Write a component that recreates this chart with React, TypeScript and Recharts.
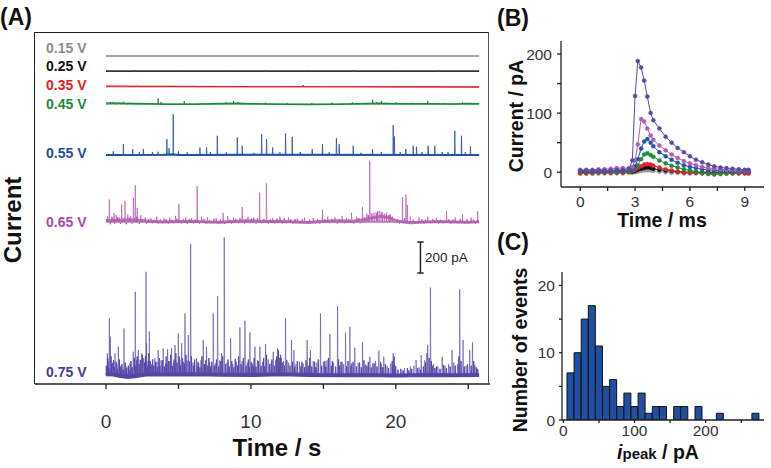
import React from 'react';
import { LineChart, Line, BarChart, Bar, XAxis, YAxis, ReferenceLine } from 'recharts';

const FONT = '"Liberation Sans", Arial, Helvetica, sans-serif';
const INK = '#222';

// ---------- (A) current traces at each potential ----------
const T_END = 25.75;
const VOLTAGES = ['0.15 V', '0.25 V', '0.35 V', '0.45 V', '0.55 V', '0.65 V', '0.75 V'];
const LABEL_COLORS = ['#8c8c8c', '#111111', '#e31e24', '#1a8a3c', '#1f4e9e', '#a84ba6', '#4a3c98'];
const TRACE_COLORS = ['#a6a6a6', '#111111', '#e0262a', '#1e8c3a', '#2252a4', '#b25cb0', '#5546a6'];
// vertical offset of each trace, pA
const OFFSETS = [2116, 2019, 1918, 1806, 1477, 1045, 58];
const BAND_WIDTHS = [2, 1, 1.2, 1.5, 2, 3, 4];
const BAND_OPACITY = [1, 1, 1, 1, 1, 0.85, 1];
const SPIKE_OPACITY = [1, 1, 1, 0.9, 0.8, 0.7, 0.6];
const NOISE_OPACITY = [1, 1, 1, 1, 1, 0.95, 0.95];

// slow baseline wander [t (s), pA]
const DRIFT_015 = [[0, 0], [T_END, 0]];
const DRIFT_025 = [[0, 0], [T_END, 0]];
const DRIFT_035 = [[0, 4], [5, 2], [10, 1], [15, 0], [20, -1], [T_END, -2]];
const DRIFT_045 = [[0, 8], [1, 6], [2, 4], [3, 3], [4, 0], [6, 0], [8, 4], [9, 6], [10, 2], [12, 0], [14, -2], [16, -1], [18, 4], [19, 6], [20, 3], [22, 2], [24, 1], [25, 4], [T_END, 3]];
const DRIFT_055 = [[0, 0], [4, 2], [4.6, 6], [5, 1], [12, 2], [T_END, 0]];
const DRIFT_065 = [[0, 10], [1, 12], [2, 15], [3, 5], [4, 0], [5, 3], [6, 5], [7, 0], [8, -2], [9, 5], [10, 8], [11, 3], [12, 5], [13, 0], [14, -3], [15, 5], [16, 8], [17, 5], [18, 18], [18.5, 30], [19, 38], [19.5, 30], [20, 10], [20.5, 0], [21, -5], [22, 0], [23, 3], [24, 0], [25, -2], [T_END, 2]];
const DRIFT_075 = [[0, 5], [0.5, 3], [1, -6], [1.5, -12], [2, -8], [2.5, 0], [3, 5], [4, 3], [6, 5], [8, 2], [10, 0], [12, 5], [14, 0], [16, -2], [18, 0], [20, -3], [22, 0], [24, -2], [T_END, 0]];

// spikes [t (s), height pA]
const SPIKES_015: number[][] = [];
const SPIKES_025 = [[2, 4], [5, 4], [8.5, 4], [11, 3], [14, 4], [17, 4], [20, 3], [23, 3]];
const SPIKES_035 = [[2.1, 6], [6.0, 5], [9.4, 5], [13.6, 12], [16.8, 5], [20.5, 5]];
const SPIKES_045 = [[0.3, 12], [0.5, 15], [0.9, 10], [1.2, 15], [1.6, 8], [3.6, 37], [3.8, 14], [5.4, 20], [6.6, 8], [8.3, 12], [8.8, 20], [9.1, 14], [11.0, 10], [12.5, 8], [14.2, 8], [15.6, 10], [17.0, 12], [18.4, 28], [18.7, 14], [19.0, 20], [20.0, 12], [21.1, 8], [22.2, 22], [23.3, 8], [24.6, 12], [25.0, 8]];
const SPIKES_055 = [[0.5, 25], [1.2, 71], [1.84, 39], [2.3, 20], [2.58, 39], [3.2, 20], [3.6, 22], [4.2, 103], [4.35, 45], [4.64, 264], [5.0, 25], [5.6, 18], [6.48, 49], [6.94, 49], [7.2, 20], [7.68, 125], [8.3, 18], [9.06, 114], [9.4, 60], [10.2, 15], [10.74, 135], [11.08, 103], [11.5, 49], [12.0, 18], [12.39, 140], [12.85, 118], [13.4, 20], [14.23, 39], [14.94, 71], [15.4, 18], [15.9, 108], [16.09, 71], [17.06, 60], [17.6, 15], [18.39, 39], [19.0, 20], [19.82, 194], [19.9, 120], [20.3, 20], [20.69, 39], [21.2, 60], [21.43, 54], [21.8, 20], [22.23, 60], [22.69, 60], [23.2, 20], [23.6, 18], [24.07, 157], [24.53, 125], [24.8, 20], [25.15, 56]];
const SPIKES_065 = [[0.1, 40], [0.23, 146], [0.4, 35], [0.55, 60], [0.7, 45], [0.9, 30], [1.08, 114], [1.31, 135], [1.5, 50], [1.7, 40], [1.89, 157], [2.02, 237], [2.16, 92], [2.4, 45], [2.7, 30], [3.1, 25], [3.5, 35], [4.0, 25], [4.4, 30], [4.8, 40], [5.03, 118], [5.5, 30], [5.9, 25], [6.29, 232], [6.6, 35], [7.0, 30], [7.6, 25], [8.08, 60], [8.4, 40], [8.8, 30], [9.4, 97], [9.8, 35], [10.2, 30], [10.6, 189], [11.07, 250], [11.5, 25], [12.0, 35], [12.6, 30], [13.2, 25], [13.7, 30], [14.3, 25], [14.94, 80], [15.3, 35], [15.8, 30], [16.3, 40], [16.6, 25], [16.94, 60], [17.3, 35], [17.7, 97], [18.0, 55], [18.2, 395], [18.5, 60], [18.9, 70], [19.2, 55], [19.5, 45], [20.46, 161], [20.7, 178], [20.8, 110], [21.0, 35], [21.6, 30], [22.2, 35], [22.8, 25], [23.5, 70], [24.1, 30], [24.6, 50], [25.2, 30], [25.65, 70]];
const SPIKES_075 = [[0.09, 140], [0.15, 90], [0.23, 366], [0.3, 247], [0.45, 80], [0.62, 140], [0.75, 70], [0.85, 183], [1.05, 60], [1.24, 301], [1.45, 55], [1.65, 75], [1.88, 150], [2.02, 537], [2.1, 95], [2.23, 161], [2.35, 100], [2.46, 140], [2.6, 110], [2.76, 666], [2.8, 204], [2.9, 90], [2.99, 280], [3.15, 70], [3.37, 108], [3.5, 85], [3.6, 161], [3.8, 95], [3.95, 172], [4.1, 75], [4.25, 166], [4.4, 90], [4.52, 172], [4.65, 80], [4.76, 194], [4.99, 269], [5.1, 100], [5.22, 204], [5.35, 85], [5.45, 398], [5.6, 95], [5.68, 258], [5.84, 845], [6.0, 80], [6.25, 108], [6.4, 75], [6.55, 95], [6.71, 226], [6.8, 70], [6.94, 183], [7.15, 85], [7.4, 398], [7.55, 75], [7.7, 510], [7.85, 95], [7.98, 140], [8.16, 888], [8.35, 80], [8.6, 237], [8.75, 70], [9.0, 85], [9.24, 307], [9.4, 90], [9.59, 350], [9.75, 80], [9.93, 275], [10.1, 75], [10.28, 183], [10.45, 95], [10.62, 183], [10.8, 85], [11.01, 200], [11.2, 100], [11.4, 80], [11.54, 150], [11.7, 95], [11.84, 172], [12.1, 110], [12.25, 90], [12.39, 366], [12.6, 80], [12.8, 226], [12.97, 161], [13.1, 70], [13.35, 85], [13.6, 75], [13.88, 226], [14.11, 161], [14.3, 90], [14.55, 80], [14.8, 398], [15.0, 85], [15.25, 95], [15.45, 264], [15.7, 80], [15.98, 445], [16.2, 85], [16.4, 70], [16.53, 273], [16.83, 312], [16.95, 75], [17.17, 176], [17.4, 80], [17.7, 211], [17.9, 70], [18.21, 118], [18.4, 75], [18.6, 90], [18.83, 157], [19.0, 70], [19.17, 118], [19.4, 60], [19.65, 75], [19.82, 140], [20.0, 55], [20.6, 45], [21.0, 55], [21.25, 60], [21.4, 97], [21.6, 50], [21.75, 129], [22.0, 95], [22.14, 140], [22.2, 194], [22.39, 565], [22.6, 70], [22.9, 55], [23.2, 118], [23.4, 60], [23.65, 70], [23.88, 161], [24.0, 80], [24.25, 70], [24.41, 553], [24.64, 226], [24.85, 60], [25.1, 161], [25.29, 211], [25.45, 65]];

// fine flicker on the 0.65 V baseline
const NOISE_065 = [[0.05, 20], [0.3, -15], [0.45, 25], [0.6, -10], [0.8, 30], [1.0, -12], [1.2, 22], [1.4, -15], [1.6, 28], [1.8, -10], [2.1, 35], [2.3, -12], [2.5, 20], [2.8, -10], [2.95, 18], [3.2, -8], [3.35, 15], [3.6, -10], [3.75, 18], [3.9, -8], [4.15, 20], [4.3, -10], [4.55, 15], [4.7, -8], [4.9, 22], [5.2, -10], [5.35, 18], [5.6, -12], [5.75, 20], [6.05, -8], [6.15, 15], [6.45, -10], [6.75, 20], [6.9, -10], [7.15, 15], [7.3, -8], [7.45, 20], [7.75, -10], [7.9, 18], [8.2, -12], [8.55, 15], [8.65, -10], [8.95, 20], [9.15, -8], [9.25, 25], [9.55, -10], [9.65, 20], [9.95, -8], [10.05, 22], [10.35, -10], [10.45, 25], [10.75, -8], [10.9, 20], [11.2, -10], [11.35, 18], [11.65, -8], [11.8, 22], [12.15, -10], [12.3, 25], [12.45, -8], [12.75, 18], [12.9, -10], [13.05, 20], [13.4, -8], [13.55, 18], [13.85, -10], [14.05, 15], [14.45, -8], [14.6, 20], [14.75, -10], [15.1, 18], [15.45, -8], [15.6, 22], [15.95, -10], [16.1, 20], [16.45, -8], [16.75, 18], [17.1, -10], [17.45, 25], [17.55, -8], [17.85, 30], [18.1, 45], [18.35, 55], [18.65, 60], [18.75, 70], [19.05, 65], [19.35, 60], [19.6, 50], [19.75, 35], [19.9, -5], [20.1, 15], [20.25, -10], [20.6, 25], [20.95, -10], [21.2, 15], [21.35, -8], [21.8, 18], [21.95, -10], [22.05, 15], [22.4, -8], [22.55, 18], [22.95, -10], [23.1, 15], [23.25, -8], [23.65, 18], [23.8, -10], [23.95, 15], [24.3, -8], [24.45, 20], [24.75, -10], [24.9, 18], [25.05, -8], [25.35, 15], [25.5, -10]];
// dense small events riding on the 0.75 V baseline
const NOISE_075 = [[0.02, 60], [0.12, 110], [0.2, 45], [0.35, 120], [0.4, 70], [0.52, 95], [0.58, 50], [0.7, 85], [0.8, 40], [0.92, 100], [0.98, 55], [1.1, 70], [1.18, 35], [1.32, 80], [1.4, 45], [1.55, 60], [1.6, 30], [1.72, 90], [1.8, 50], [1.95, 110], [2.06, 60], [2.15, 120], [2.28, 70], [2.4, 95], [2.52, 130], [2.66, 80], [2.72, 120], [2.85, 60], [2.95, 140], [3.05, 90], [3.1, 55], [3.22, 100], [3.3, 60], [3.42, 85], [3.55, 50], [3.67, 110], [3.72, 60], [3.88, 95], [4.02, 55], [4.15, 120], [4.2, 70], [4.32, 90], [4.46, 130], [4.58, 60], [4.7, 100], [4.82, 140], [4.9, 80], [5.05, 120], [5.15, 60], [5.28, 110], [5.4, 75], [5.52, 130], [5.75, 90], [5.9, 120], [6.05, 60], [6.12, 100], [6.3, 55], [6.35, 85], [6.48, 50], [6.62, 120], [6.78, 70], [6.88, 95], [7.02, 60], [7.1, 110], [7.22, 55], [7.3, 85], [7.48, 60], [7.62, 100], [7.78, 55], [7.92, 90], [8.05, 120], [8.25, 70], [8.42, 100], [8.5, 55], [8.68, 90], [8.82, 50], [8.92, 105], [9.08, 60], [9.15, 120], [9.32, 70], [9.48, 110], [9.66, 60], [9.82, 100], [9.88, 50], [10.02, 85], [10.15, 60], [10.22, 110], [10.35, 55], [10.52, 90], [10.7, 60], [10.88, 110], [10.95, 55], [11.08, 130], [11.3, 70], [11.45, 100], [11.62, 60], [11.78, 120], [11.9, 160], [11.95, 110], [12.05, 130], [12.18, 80], [12.32, 60], [12.48, 95], [12.7, 60], [12.88, 85], [13.02, 50], [13.2, 90], [13.45, 55], [13.52, 85], [13.7, 50], [13.8, 95], [13.95, 60], [14.05, 110], [14.2, 55], [14.4, 85], [14.48, 50], [14.65, 100], [14.88, 60], [15.1, 90], [15.18, 55], [15.35, 110], [15.55, 60], [15.62, 90], [15.85, 55], [16.05, 100], [16.12, 60], [16.28, 85], [16.6, 55], [16.7, 90], [16.9, 60], [17.05, 85], [17.28, 55], [17.5, 80], [17.62, 50], [17.8, 95], [18.0, 60], [18.1, 85], [18.3, 50], [18.5, 75], [18.7, 55], [18.95, 85], [19.1, 50], [19.28, 70], [19.5, 45], [19.75, 90], [19.88, 120], [19.95, 60], [20.15, 35], [20.35, 40], [20.5, 30], [20.8, 45], [20.9, 30], [21.1, 40], [21.5, 45], [21.7, 35], [21.9, 55], [22.05, 80], [22.3, 110], [22.45, 90], [22.52, 60], [22.7, 45], [22.8, 55], [23.05, 40], [23.3, 65], [23.5, 45], [23.75, 55], [24.1, 60], [24.35, 120], [24.5, 90], [24.72, 55], [24.95, 70], [25.2, 60], [25.38, 90], [25.55, 50], [25.65, 40]];

const DRIFTS = [DRIFT_015, DRIFT_025, DRIFT_035, DRIFT_045, DRIFT_055, DRIFT_065, DRIFT_075];
const SPIKES = [SPIKES_015, SPIKES_025, SPIKES_035, SPIKES_045, SPIKES_055, SPIKES_065, SPIKES_075];
const NOISE: number[][][] = [[], [], [], [], [], NOISE_065, NOISE_075];

const SCALE_BAR_PA = 200;
const SCALE_BAR_BASE = 716;
const SCALE_BAR_T = 21.7;

const driftRows = (base: number, drift: number[][]) => drift.map(([t, d]) => ({ t, v: base + d }));

const spikeRows = (base: number, spikes: number[][]) => {
  const rows = [{ t: 0, v: base }];
  [...spikes].sort((a, b) => a[0] - b[0]).forEach(([t, h]) => {
    rows.push({ t: t - 0.02, v: base }, { t, v: base + h }, { t: t + 0.03, v: base });
  });
  rows.push({ t: T_END, v: base });
  return rows;
};

// ---------- (B) averaged transients ----------
const TIME_B = [0, 0.33, 0.67, 1.0, 1.33, 1.67, 2.0, 2.33, 2.67, 2.85, 3.0, 3.15, 3.33, 3.5, 3.67, 3.85, 4.0, 4.33, 4.67, 5.0, 5.33, 5.67, 6.0, 6.33, 6.67, 7.0, 7.33, 7.67, 8.0, 8.33, 8.67, 9.0, 9.2];
const AVG_015 = [-2, -2, -2, -2, -2, -2, -2, -2, -1, -1, 0, 1, 2, 3, 3, 3, 2, 1, 0, -1, -1, -2, -2, -2, -2, -2, -2, -2, -2, -2, -2, -2, -2];
const AVG_025 = [0, 0, 0, 0, 0, 0, 0, 0, 1, 1, 2, 4, 6, 7, 8, 7, 6, 4, 3, 2, 1, 0, 0, 0, 0, 0, 0, 0, 0, 0, 0, 0, 0];
const AVG_035 = [-2, -2, -2, -1, -1, -1, 0, 0, 1, 2, 4, 7, 10, 13, 14, 13, 11, 8, 5, 3, 1, 0, -1, -1, -2, -2, -2, -2, -2, -2, -2, -2, -2];
const AVG_045 = [1, 1, 0, 0, 1, 1, 1, 2, 2, 3, 6, 12, 22, 30, 32, 29, 26, 20, 15, 11, 8, 5, 3, 1, -1, -3, -4, -3, -2, -1, 0, 1, 2];
const AVG_055 = [2, 2, 2, 2, 2, 3, 3, 3, 4, 5, 10, 22, 40, 52, 56, 50, 44, 34, 27, 21, 16, 12, 9, 7, 5, 4, 3, 3, 2, 2, 2, 2, 2];
const AVG_065 = [4, 4, 4, 5, 5, 6, 7, 7, 7, 9, 20, 47, 90, 86, 74, 62, 55, 45, 37, 30, 24, 19, 15, 12, 9, 7, 6, 5, 4, 4, 3, 3, 3];
const AVG_075 = [3, 3, 3, 3, 3, 3, 4, 4, 6, 20, 129, 188, 177, 155, 128, 100, 88, 74, 60, 50, 41, 34, 27, 21, 17, 13, 10, 8, 7, 6, 5, 4, 4];
const AVG_KEYS = ['v015', 'v025', 'v035', 'v045', 'v055', 'v065', 'v075'];
const AVGS = [AVG_015, AVG_025, AVG_035, AVG_045, AVG_055, AVG_065, AVG_075];
const AVG_COLORS = ['#9a9a9a', '#111111', '#e0262a', '#1e8c3a', '#2456a8', '#b35bb5', '#5a4aa8'];

const rowsB = TIME_B.map((t, i) => {
  const row: Record<string, number> = { t };
  AVG_KEYS.forEach((k, j) => { row[k] = AVGS[j][i]; });
  return row;
});

// ---------- (C) peak current histogram ----------
const BINS = [10, 20, 30, 40, 50, 60, 70, 80, 90, 100, 110, 120, 130, 140, 150, 160, 170, 180, 190, 200, 210, 220, 230, 240, 250, 260, 270];
const COUNTS = [7, 10, 15, 17, 11, 5, 6, 2, 4, 2, 4, 1, 2, 2, 0, 2, 2, 0, 2, 0, 0, 1, 0, 0, 0, 0, 1];
const histRows = BINS.map((bin, i) => ({ bin, count: COUNTS[i] }));

type NoteProps = {
  x: number; y: number; size: number; bold?: boolean; color?: string;
  rotate?: boolean; center?: boolean; children: React.ReactNode;
};

const Note = ({ x, y, size, bold = true, color = '#111', rotate, center, children }: NoteProps) => (
  <div
    style={{
      position: 'absolute', left: x, top: y, fontSize: size, fontWeight: bold ? 700 : 400,
      color, fontFamily: FONT, lineHeight: 1, whiteSpace: 'nowrap',
      transform: `translate(${center || rotate ? '-50%' : '0'}, -50%)${rotate ? ' rotate(-90deg)' : ''}`,
    }}
  >
    {children}
  </div>
);

const frame = { stroke: INK, strokeWidth: 1.3 };
const tickFont = (size: number) => ({ fontSize: size, fill: '#333', fontFamily: FONT });

const PanelA = () => (
  <div style={{ position: 'absolute', left: 0, top: 0 }}>
    <LineChart width={500} height={468} margin={{ top: 33, right: 10, bottom: 0, left: 35 }}>
      <XAxis xAxisId="b" type="number" dataKey="t" domain={[-4.9, 26.5]} allowDataOverflow
        ticks={[0, 5, 10, 15, 20, 25]} tickFormatter={(v: number) => (v % 10 === 0 ? String(v) : '')}
        height={84} tickSize={5} tickMargin={26} axisLine={{ stroke: INK, strokeWidth: 1.6 }}
        tickLine={{ stroke: INK, strokeWidth: 1.3 }} tick={tickFont(19)} />
      <YAxis yAxisId="l" type="number" domain={[0, 2265]} allowDataOverflow width={0}
        tick={false} tickLine={false} axisLine={false} />
      {OFFSETS.map((base, i) => (
        <Line key={`band${i}`} xAxisId="b" yAxisId="l" data={driftRows(base, DRIFTS[i])} dataKey="v"
          type="linear" stroke={TRACE_COLORS[i]} strokeWidth={BAND_WIDTHS[i]} strokeOpacity={BAND_OPACITY[i]}
          dot={false} isAnimationActive={false} />
      ))}
      {OFFSETS.map((base, i) => NOISE[i].length > 0 && (
        <Line key={`noise${i}`} xAxisId="b" yAxisId="l" data={spikeRows(base, NOISE[i])} dataKey="v"
          type="linear" stroke={TRACE_COLORS[i]} strokeWidth={1} strokeOpacity={NOISE_OPACITY[i]} dot={false}
          isAnimationActive={false} />
      ))}
      {OFFSETS.map((base, i) => (
        <Line key={`spk${i}`} xAxisId="b" yAxisId="l" data={spikeRows(base, SPIKES[i])} dataKey="v"
          type="linear" stroke={TRACE_COLORS[i]} strokeWidth={1} strokeOpacity={SPIKE_OPACITY[i]} dot={false}
          isAnimationActive={false} />
      ))}
      <ReferenceLine xAxisId="b" yAxisId="l" stroke={INK} strokeWidth={1.5}
        segment={[{ x: SCALE_BAR_T, y: SCALE_BAR_BASE }, { x: SCALE_BAR_T, y: SCALE_BAR_BASE + SCALE_BAR_PA }]} />
      <ReferenceLine xAxisId="b" yAxisId="l" stroke={INK} strokeWidth={1.5}
        segment={[{ x: SCALE_BAR_T - 0.22, y: SCALE_BAR_BASE }, { x: SCALE_BAR_T + 0.22, y: SCALE_BAR_BASE }]} />
      <ReferenceLine xAxisId="b" yAxisId="l" stroke={INK} strokeWidth={1.5}
        segment={[{ x: SCALE_BAR_T - 0.22, y: SCALE_BAR_BASE + SCALE_BAR_PA }, { x: SCALE_BAR_T + 0.22, y: SCALE_BAR_BASE + SCALE_BAR_PA }]} />
    </LineChart>
    {/* box around the trace area */}
    <div style={{
      position: 'absolute', left: 34, top: 32, width: 455, height: 352, boxSizing: 'border-box',
      borderTop: `1.6px solid ${INK}`, borderLeft: `1.6px solid ${INK}`, borderRight: '1.6px solid #555',
      pointerEvents: 'none',
    }} />
  </div>
);

const PanelB = () => (
  <div style={{ position: 'absolute', left: 490, top: 0 }}>
    <LineChart width={281} height={230} data={rowsB} margin={{ top: 41, right: 7, bottom: 0, left: 0 }}>
      <XAxis xAxisId="b" type="number" dataKey="t" domain={[-1.05, 10.05]} allowDataOverflow
        ticks={[0, 1.5, 3, 4.5, 6, 7.5, 9]} tickFormatter={(v: number) => (v % 3 === 0 ? String(v) : '')}
        height={43} tickSize={4} tickMargin={5} axisLine={frame} tickLine={frame} tick={tickFont(15.5)} />
      <XAxis xAxisId="top" orientation="top" type="number" domain={[0, 1]} height={0}
        tick={false} tickLine={false} axisLine={frame} />
      <YAxis yAxisId="l" type="number" domain={[-25, 222]} allowDataOverflow width={71}
        ticks={[0, 50, 100, 150, 200]} tickFormatter={(v: number) => (v % 100 === 0 ? String(v) : '')}
        tickSize={4} tickMargin={5} axisLine={frame} tickLine={frame} tick={tickFont(15.5)} />
      <YAxis yAxisId="r" orientation="right" type="number" domain={[0, 1]} width={0}
        tick={false} tickLine={false} axisLine={frame} />
      {AVG_KEYS.map((k, i) => (
        <Line key={k} xAxisId="b" yAxisId="l" dataKey={k} type="linear" stroke={AVG_COLORS[i]}
          strokeWidth={1} dot={{ r: 2, fill: AVG_COLORS[i], stroke: AVG_COLORS[i], strokeWidth: 0.5 }}
          isAnimationActive={false} />
      ))}
    </LineChart>
  </div>
);

const PanelC = () => (
  <div style={{ position: 'absolute', left: 490, top: 230 }}>
    <BarChart width={281} height={238} data={histRows} margin={{ top: 42, right: 7, bottom: 0, left: 0 }}>
      <XAxis xAxisId="b" type="number" dataKey="bin" domain={[-2, 282]} allowDataOverflow
        ticks={[0, 50, 100, 150, 200, 250]} tickFormatter={(v: number) => (v % 100 === 0 ? String(v) : '')}
        height={48} tickSize={3} tickMargin={2} axisLine={frame} tickLine={frame} tick={tickFont(15.5)} />
      <XAxis xAxisId="top" orientation="top" type="number" domain={[0, 1]} height={0}
        tick={false} tickLine={false} axisLine={frame} />
      <YAxis yAxisId="l" type="number" domain={[0, 22]} allowDataOverflow width={72}
        ticks={[0, 5, 10, 15, 20]} tickFormatter={(v: number) => (v % 10 === 0 ? String(v) : '')}
        tickSize={3} tickMargin={4} axisLine={frame} tickLine={frame} tick={tickFont(15.5)} />
      <YAxis yAxisId="r" orientation="right" type="number" domain={[0, 1]} width={0}
        tick={false} tickLine={false} axisLine={frame} />
      <Bar xAxisId="b" yAxisId="l" dataKey="count" fill="#1f4fa0" stroke="#111" strokeWidth={1}
        barSize={7} isAnimationActive={false} />
    </BarChart>
  </div>
);

const App = () => (
  <div style={{ position: 'absolute', left: 0, top: 0, width: 771, height: 468, background: '#fff', overflow: 'hidden' }}>
    <PanelA />
    <PanelB />
    <PanelC />

    <Note x={0} y={17} size={23}>(A)</Note>
    <Note x={497} y={18} size={23}>(B)</Note>
    <Note x={497} y={242} size={23}>(C)</Note>

    {VOLTAGES.map((v, i) => (
      <Note key={v} x={46} y={[48, 66, 85, 104, 153, 222, 372][i]} size={14} color={LABEL_COLORS[i]}>{v}</Note>
    ))}
    <Note x={425} y={258} size={13.5} bold={false} color="#222">{`${SCALE_BAR_PA} pA`}</Note>

    <Note x={13} y={220} size={24} rotate>Current</Note>
    <Note x={277} y={448} size={24} center>Time / s</Note>
    <Note x={517} y={116} size={19.5} rotate>Current / pA</Note>
    <Note x={662} y={221} size={19.5} center>Time / ms</Note>
    <Note x={521} y={350} size={19.5} rotate>Number of events</Note>
    <Note x={658} y={453} size={19.5} center>
      <i>i</i><span style={{ fontSize: 15 }}>peak</span> / pA
    </Note>
  </div>
);

export default App;
